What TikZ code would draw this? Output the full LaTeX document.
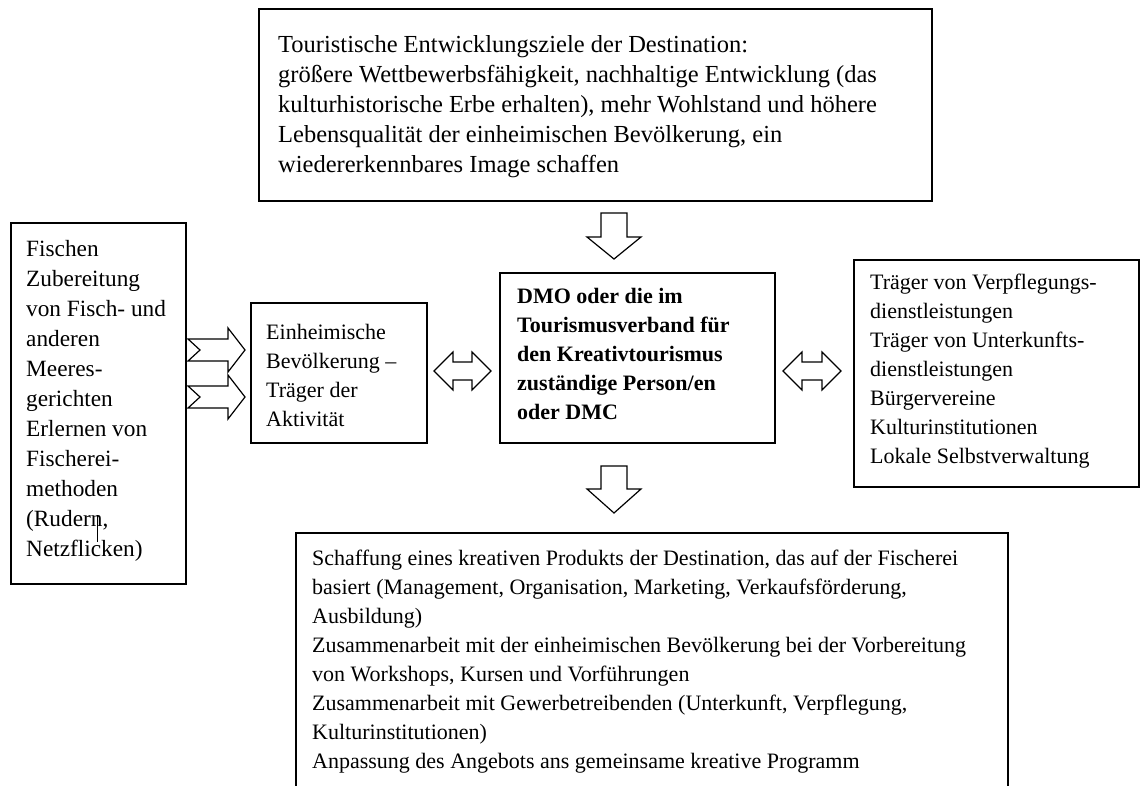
\documentclass[tikz,border=0pt]{standalone}
\usepackage{fontspec}
\setmainfont{Liberation Serif}
\begin{document}
\begin{tikzpicture}[x=1pt,y=-1pt,
  box/.style={draw, line width=1.5pt, inner sep=0pt, anchor=north west},
  txt/.style={inner sep=0pt, anchor=north west, align=left, font=\fontsize{22}{29}\selectfont},
  bigtxt/.style={txt, font=\fontsize{24.5}{30}\selectfont},
  midtxt/.style={txt, font=\fontsize{23.3}{30}\selectfont},
  blockarrow/.style={draw, line width=1.2pt, fill=white, line join=miter}]
\useasboundingbox[fill=white] (0,0) rectangle (1140,785);

% boxes
\node[box, minimum width=673pt, minimum height=192pt] (goals) at (258,8) {};
\node[box, minimum width=175pt, minimum height=361pt] (fish) at (10,222) {};
\node[box, minimum width=176pt, minimum height=140pt] (locals) at (250,302) {};
\node[box, minimum width=275pt, minimum height=170pt] (dmo) at (499,272) {};
\node[box, minimum width=285pt, minimum height=227pt] (partners) at (853,259) {};
\begin{scope}
\clip (0,0) rectangle (1140,785);
\node[box, minimum width=712pt, minimum height=280pt] (product) at (295,532) {};
\end{scope}

% texts
\node[bigtxt] (goalstext) at (278,31) {\strut Touristische Entwicklungsziele der Destination:\\
größere Wettbewerbsfähigkeit, nachhaltige Entwicklung (das\\
kulturhistorische Erbe erhalten), mehr Wohlstand und höhere\\
Lebensqualität der einheimischen Bevölkerung, ein\\
wiedererkennbares Image schaffen};

\node[midtxt] (fishtext) at (26,235.5) {\strut Fischen\\ Zubereitung\\ von Fisch- und\\ anderen\\ Meeres-\\ gerichten\\ Erlernen von\\ Fischerei-\\ methoden\\ (Rudern,\\ Netzflicken)};

\node[txt] (localstext) at (266,319) {\strut Einheimische\\ Bevölkerung –\\ Träger der\\ Aktivität};

\node[txt, font=\fontsize{22}{29}\selectfont\bfseries] (dmotext) at (517,283) {\strut DMO oder die im\\ Tourismusverband für\\ den Kreativtourismus\\ zuständige Person/en\\ oder DMC};

\node[txt] (partnerstext) at (870,269) {\strut Träger von Verpflegungs-\\ dienstleistungen\\ Träger von Unterkunfts-\\ dienstleistungen\\ Bürgervereine\\ Kulturinstitutionen\\ Lokale Selbstverwaltung};

\node[txt] (producttext) at (312,545) {\strut Schaffung eines kreativen Produkts der Destination, das auf der Fischerei\\
basiert (Management, Organisation, Marketing, Verkaufsförderung,\\
Ausbildung)\\
Zusammenarbeit mit der einheimischen Bevölkerung bei der Vorbereitung\\
von Workshops, Kursen und Vorführungen\\
Zusammenarbeit mit Gewerbetreibenden (Unterkunft, Verpflegung,\\
Kulturinstitutionen)\\
Anpassung des Angebots ans gemeinsame kreative Programm};

% cursor mark
\coordinate (cursortop) at (97,515);
\coordinate (cursorbot) at (97,542);
\draw[line width=0.8pt] (cursortop) -- (cursorbot);

% down arrows
\draw[blockarrow, shift={(614,213)}] (-13,0) -- (13,0) -- (13,24) -- (27,24) -- (0,46) -- (-27,24) -- (-13,24) -- cycle;
\draw[blockarrow, shift={(614,466)}] (-13,0) -- (13,0) -- (13,23) -- (27,23) -- (0,47) -- (-27,23) -- (-13,23) -- cycle;

% double arrows
\draw[blockarrow, shift={(434,371)}] (0,0) -- (19,-19) -- (19,-9) -- (38,-9) -- (38,-19) -- (57,0) -- (38,19) -- (38,9) -- (19,9) -- (19,19) -- cycle;
\draw[blockarrow, shift={(783,371)}] (0,0) -- (19,-19) -- (19,-9) -- (39,-9) -- (39,-19) -- (58,0) -- (39,19) -- (39,9) -- (19,9) -- (19,19) -- cycle;

% notched arrows
\draw[blockarrow, shift={(188,350)}] (0,-11) -- (40,-11) -- (40,-22) -- (57,0) -- (40,22) -- (40,11) -- (0,11) -- (12,0) -- cycle;
\draw[blockarrow, shift={(188,397)}] (0,-11) -- (40,-11) -- (40,-22) -- (57,0) -- (40,22) -- (40,11) -- (0,11) -- (12,0) -- cycle;
\end{tikzpicture}
\end{document}
